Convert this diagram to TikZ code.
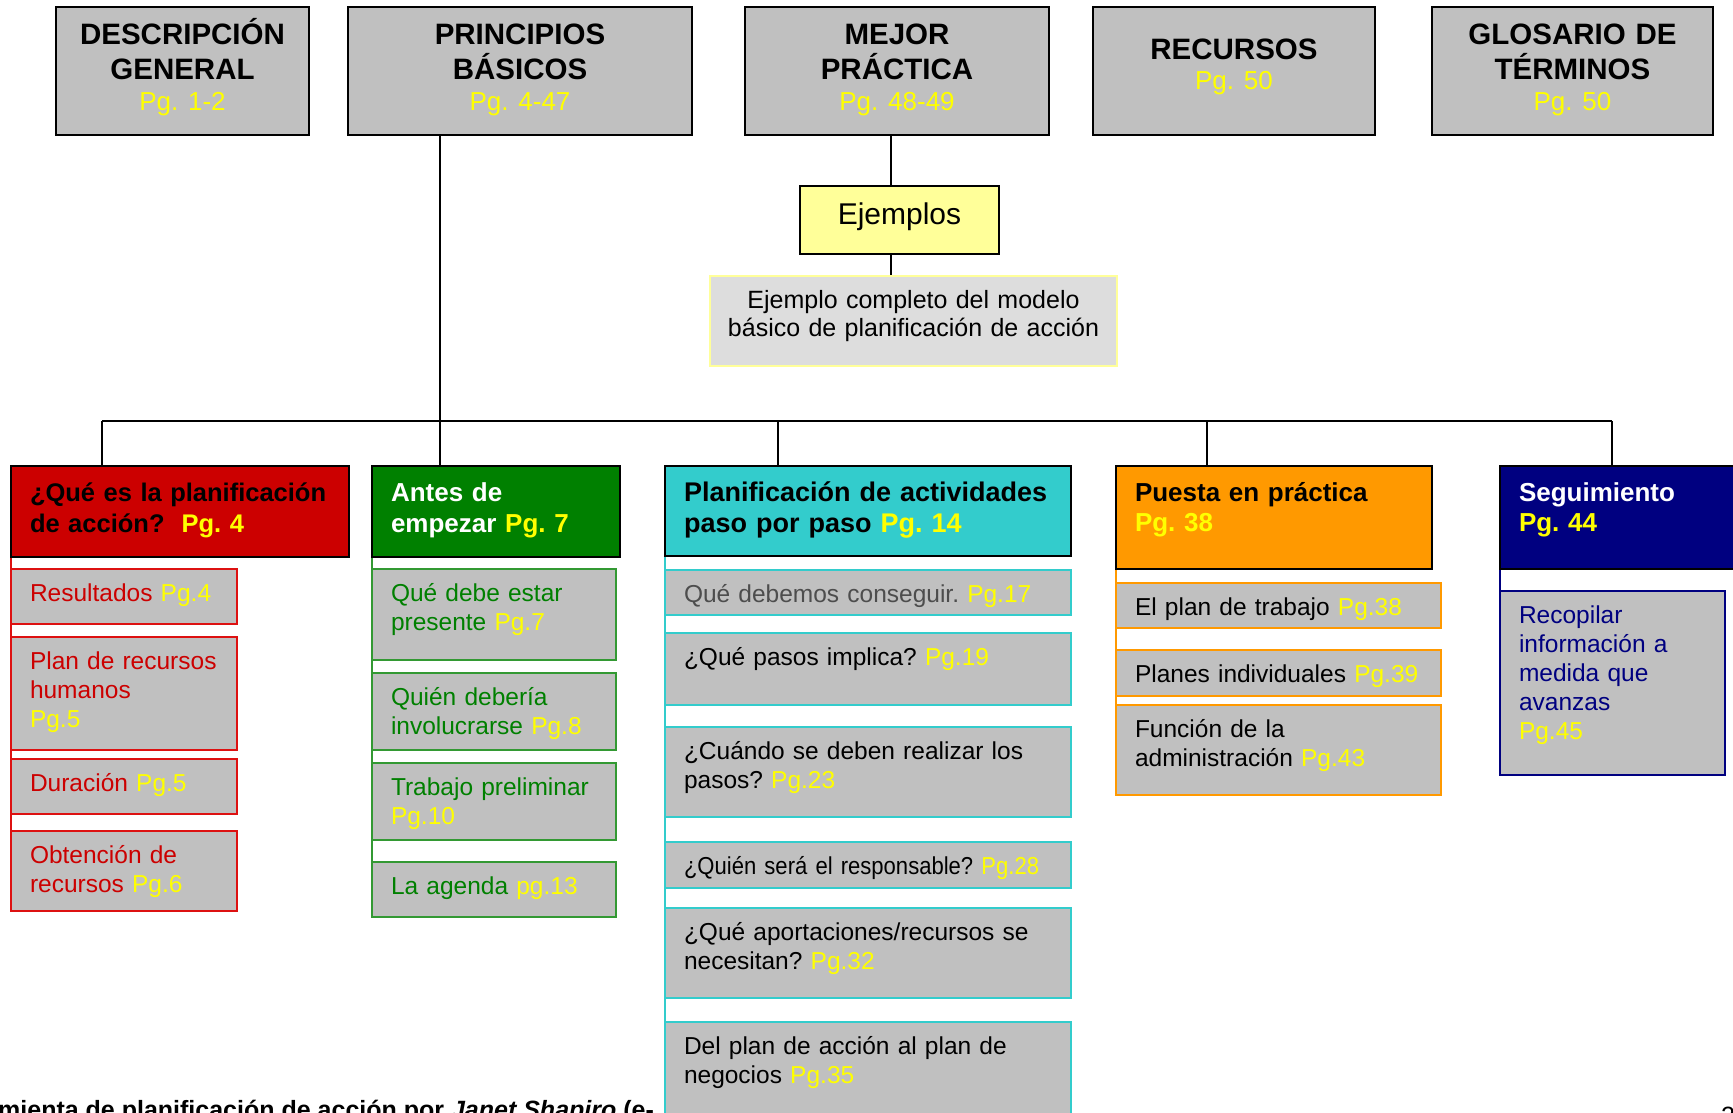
\documentclass[tikz,border=0pt]{standalone}
\usepackage{fontspec}
\setmainfont{Liberation Sans}
\newfontfamily\narrowfont[FakeStretch=0.9]{Liberation Sans}
\usepackage{xcolor}
\usetikzlibrary{backgrounds}
\frenchspacing
\hyphenpenalty=10000
\exhyphenpenalty=10000

\definecolor{boxgray}{HTML}{C0C0C0}
\definecolor{pgyellow}{HTML}{FFFF00}
\definecolor{hdred}{HTML}{CC0000}
\definecolor{hdgreen}{HTML}{008000}
\definecolor{hdcyan}{HTML}{33CCCC}
\definecolor{hdorange}{HTML}{FF9900}
\definecolor{hdnavy}{HTML}{000080}
\definecolor{bdred}{HTML}{DD1111}
\definecolor{bdgreen}{HTML}{339933}
\definecolor{exyellow}{HTML}{FFFF99}
\definecolor{exgray}{HTML}{DDDDDD}
\definecolor{txgray}{HTML}{4D4D4D}

\newcommand{\topfont}{\bfseries\fontsize{29.5}{33}\selectfont}
\newcommand{\pgtop}{\mdseries\fontsize{26}{30}\selectfont}
\newcommand{\hdfont}{\bfseries\fontsize{26}{31}\selectfont}
\newcommand{\subfont}{\fontsize{24.5}{29}\selectfont}
\newcommand{\pg}[1]{\textcolor{pgyellow}{#1}}

\begin{document}
\begin{tikzpicture}[x=1pt, y=-1pt,
    topbox/.style={draw, fill=boxgray, line width=1.8pt, anchor=north west, inner sep=0pt, outer sep=0pt, align=center, font=\topfont, text height=38pt, text depth=90pt},
    hdr/.style={draw, line width=1.8pt, anchor=north west, inner xsep=19pt, inner ysep=0pt, outer sep=0pt, align=left, font=\hdfont, text height=35pt},
    sub/.style={draw, fill=boxgray, line width=1.8pt, anchor=north west, inner xsep=19pt, inner ysep=0pt, outer sep=0pt, align=left, font=\subfont, text height=32pt},
    redsub/.style={sub, draw=bdred, text=hdred, text width=188pt},
    greensub/.style={sub, draw=bdgreen, text=hdgreen, text width=206pt},
    cyansub/.style={sub, draw=hdcyan, text=black, text width=368pt},
    orangesub/.style={sub, draw=hdorange, text=black, text width=287pt},
    navysub/.style={sub, draw=hdnavy, text=hdnavy, text width=187pt},
    link/.style={line width=1.5pt},
    colline/.style={line width=1.8pt}
]
\useasboundingbox (0,0) rectangle (1733,1113);

% footer line, partly hidden
\node[anchor=base west, font=\bfseries\fontsize{25}{30}\selectfont, inner sep=0pt] (pie) at (-2,1118) {mienta de planificación de acción por \textit{Janet Shapiro} (e-};
\node[anchor=base west, font=\fontsize{25}{30}\selectfont, inner sep=0pt] (pagina) at (1721,1124) {2};

% top row
\node[topbox, text width=253pt] (descripcion) at (56,7) {DESCRIPCIÓN\\[2pt]GENERAL\\[-2.5pt]{\pgtop\pg{Pg. 1-2}}};
\node[topbox, text width=344pt] (principios) at (348,7) {PRINCIPIOS\\[2pt]BÁSICOS\\[-2.5pt]{\pgtop\pg{Pg. 4-47}}};
\node[topbox, text width=304pt] (mejor) at (745,7) {MEJOR\\[2pt]PRÁCTICA\\[-2.5pt]{\pgtop\pg{Pg. 48-49}}};
\node[topbox, text width=282pt, text height=53pt, text depth=75pt] (recursos) at (1093,7) {RECURSOS\\[-3pt]{\pgtop\pg{Pg. 50}}};
\node[topbox, text width=281pt] (glosario) at (1432,7) {GLOSARIO DE\\[2pt]TÉRMINOS\\[-2.5pt]{\pgtop\pg{Pg. 50}}};

% examples
\node[draw, fill=exyellow, line width=1.8pt, anchor=north west, inner sep=0pt, outer sep=0pt, align=center, text width=199pt, text height=38pt, text depth=30pt, font=\fontsize{30}{36}\selectfont] (ejemplos) at (800,186) {Ejemplos};
\node[draw=exyellow, fill=exgray, line width=1.8pt, anchor=north west, inner sep=0pt, outer sep=0pt, align=center, text width=407pt, text height=32pt, text depth=58pt, font=\fontsize{25}{28.7}\selectfont] (completo) at (710,276) {Ejemplo completo del modelo\\básico de planificación de acción};

% column headers
\node[hdr, fill=hdred, text=black, text width=300pt, text depth=56pt, font=\bfseries\fontsize{25.5}{31}\selectfont] (que) at (11,466) {\mbox{¿Qué es la planificación}\\\mbox{de acción?\ \ \pg{Pg. 4}}};
\node[hdr, fill=hdgreen, text=white, text width=210pt, text depth=56pt] (antes) at (372,466) {Antes de\\empezar \pg{Pg. 7}};
\node[hdr, fill=hdcyan, text=black, text width=368pt, text depth=55pt, font=\bfseries\fontsize{27}{31}\selectfont] (paso) at (665,466) {Planificación de actividades\\paso por paso \pg{Pg. 14}};
\node[hdr, fill=hdorange, text=black, text width=278pt, text depth=68pt, font=\bfseries\fontsize{26}{30}\selectfont] (puesta) at (1116,466) {Puesta en práctica\\\pg{Pg. 38}};
\node[hdr, fill=hdnavy, text=white, text width=222pt, text depth=68pt, font=\bfseries\fontsize{26}{30}\selectfont] (seg) at (1500,466) {Seguimiento\\\pg{Pg. 44}};

% red column
\node[redsub, text depth=23pt] (resultados) at (11,569) {Resultados \pg{Pg.4}};
\node[redsub, text depth=81pt] (humanos) at (11,637) {Plan de recursos\\humanos\\\pg{Pg.5}};
\node[redsub, text depth=23pt] (duracion) at (11,759) {Duración \pg{Pg.5}};
\node[redsub, text depth=48pt] (obtencion) at (11,831) {Obtención de\\recursos \pg{Pg.6}};

% green column
\node[greensub, text depth=59pt] (presente) at (372,569) {Qué debe estar\\presente \pg{Pg.7}};
\node[greensub, text depth=45pt] (quien) at (372,673) {Quién debería\\involucrarse \pg{Pg.8}};
\node[greensub, text depth=45pt] (trabajo) at (372,763) {Trabajo preliminar\\\pg{Pg.10}};
\node[greensub, text depth=23pt] (agenda) at (372,862) {La agenda \pg{pg.13}};

% cyan column
\node[cyansub, text=txgray, text depth=13pt] (conseguir) at (665,570) {Qué debemos conseguir. \pg{Pg.17}};
\node[cyansub, text depth=40pt] (pasos) at (665,633) {¿Qué pasos implica? \pg{Pg.19}};
\node[cyansub, text depth=58pt] (cuando) at (665,727) {¿Cuándo se deben realizar los\\pasos? \pg{Pg.23}};
\node[cyansub, text depth=14pt] (responsable) at (665,842) {{\narrowfont ¿Quién será el responsable? \pg{Pg.28}}};
\node[cyansub, text depth=58pt] (aportaciones) at (665,908) {¿Qué aportaciones/recursos se\\necesitan? \pg{Pg.32}};
\node[cyansub, text depth=86pt] (negocios) at (665,1022) {Del plan de acción al plan de\\negocios \pg{Pg.35}};

% orange column
\node[orangesub, text depth=13pt] (plantrabajo) at (1116,583) {El plan de trabajo \pg{Pg.38}};
\node[orangesub, text depth=14pt] (individuales) at (1116,650) {Planes individuales \pg{Pg.39}};
\node[orangesub, text depth=58pt] (funcion) at (1116,705) {Función de la\\administración \pg{Pg.43}};

% navy column
\node[navysub, text depth=152pt] (recopilar) at (1500,591) {Recopilar\\información a\\medida que\\avanzas\\\pg{Pg.45}};

% connectors
\coordinate (busW) at (102,421);
\coordinate (trunk) at (440,421);
\coordinate (busC) at (778,421);
\coordinate (busO) at (1207,421);
\coordinate (busE) at (1612,421);
\coordinate (ejx) at (891,0);
\begin{scope}[on background layer]
\draw[link] (mejor.south -| ejx) -- (ejemplos.north -| ejx);
\draw[link] (ejemplos.south -| ejx) -- (completo.north -| ejx);
\draw[link] (principios.south -| trunk) -- (antes.north -| trunk);
\draw[link] (busW) -- (busE);
\draw[link] (busW) -- (que.north -| busW);
\draw[link] (busC) -- (paso.north -| busC);
\draw[link] (busO) -- (puesta.north -| busO);
\draw[link] (busE) -- (seg.north -| busE);
\draw[colline, bdred] (que.south west) -- (obtencion.north west);
\draw[colline, bdgreen] (antes.south west) -- (agenda.north west);
\draw[colline, hdcyan] (paso.south west) -- (negocios.north west);
\draw[colline, hdorange] (puesta.south west) -- (funcion.north west);
\draw[colline, hdnavy] (seg.south west) -- (recopilar.north west);
\end{scope}

\end{tikzpicture}
\end{document}
